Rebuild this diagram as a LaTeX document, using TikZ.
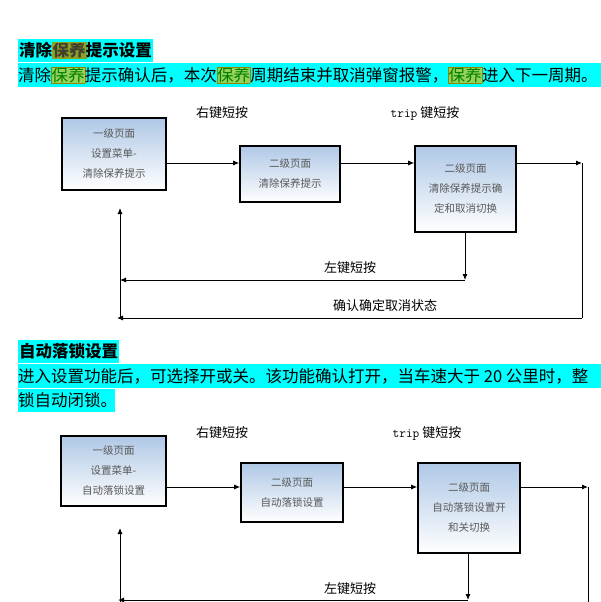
\documentclass[tikz,border=0pt]{standalone}
\usepackage{fontspec}
\setmainfont{Noto Sans CJK SC}
\usetikzlibrary{arrows.meta}
\definecolor{cyanbg}{RGB}{0,255,255}
\definecolor{hlA}{RGB}{140,160,40}
\definecolor{hlB}{RGB}{150,210,90}
\definecolor{boxtop}{RGB}{175,200,230}
\newcommand{\hlh}[1]{{\setlength\fboxsep{0pt}\setlength\fboxrule{0.3pt}\fcolorbox{hlA}{hlA}{\textcolor{black!70!olive}{#1}}}}
\newcommand{\hlt}[1]{{\setlength\fboxsep{0pt}\setlength\fboxrule{0.3pt}\fcolorbox{olive}{hlB}{\textcolor{black!50!green}{#1}}}}
\begin{document}
\begin{tikzpicture}[x=1pt,y=-1pt,
  box/.style={draw=black,line width=1.6pt,top color=boxtop,bottom color=white,
    font=\fontsize{10.5}{20}\selectfont,text=black!65,align=center,inner sep=0pt},
  lbl/.style={font=\fontsize{13}{15}\selectfont,inner sep=0pt},
  arr/.style={line width=0.9pt,-{Latex[length=6pt,width=5pt]}},
  ln/.style={line width=0.9pt}]
\useasboundingbox (0,0) rectangle (601,602);
\fill[white] (0,0) rectangle (601,602);
% ---------- section 1 ----------
\fill[cyanbg] (18,39) rectangle (153,62);
\node[anchor=west,inner sep=0pt,font=\bfseries\fontsize{16.5}{17}\selectfont] (h1) at (19,50.5) {清除\hlh{保养}提示设置};
\fill[cyanbg] (18,63) rectangle (601,87);
\node[anchor=west,inner sep=0pt,font=\fontsize{16.5}{18}\selectfont] (t1) at (18,75) {清除\hlt{保养}提示确认后，本次\hlt{保养}周期结束并取消弹窗报警，\hlt{保养}进入下一周期。};
\node[box,minimum width=104pt,minimum height=72pt] (a1) at (114,154) {一级页面\\设置菜单-\\清除保养提示};
\node[box,minimum width=100pt,minimum height=56pt] (a2) at (290,174) {二级页面\\清除保养提示};
\node[box,minimum width=101pt,minimum height=86pt] (a3) at (465.5,189) {二级页面\\清除保养提示确\\定和取消切换};
\node[lbl] (l1) at (222,113) {右键短按};
\node[lbl] (l2) at (425,113) {\texttt{trip} 键短按};
\node[lbl] (l3) at (350,268) {左键短按};
\node[lbl] (l4) at (385,306) {确认确定取消状态};
\coordinate (ar1) at (582,163);
\coordinate (ab1) at (582,318);
\coordinate (al1) at (117,318);
\coordinate (au1) at (120,318);
\coordinate (ad1) at (465,280);
\coordinate (ae1) at (120,280);
\draw[arr] (a1.east|-0,163) -- (a2.west|-0,163);
\draw[arr] (a2.east|-0,163) -- (a3.west|-0,163);
\draw[arr] (a3.east|-0,163) -- (ar1);
\draw[ln] (ar1) -- (ab1);
\draw[arr] (ab1) -- (al1);
\draw[arr] (au1) -- (120,208);
\draw[arr] (a3.south-|ad1) -- (ad1);
\draw[arr] (ad1) -- (ae1);
% ---------- section 2 ----------
\fill[cyanbg] (18,340) rectangle (119,363);
\node[anchor=west,inner sep=0pt,font=\bfseries\fontsize{16.5}{17}\selectfont] (h2) at (19,351.5) {自动落锁设置};
\fill[cyanbg] (18,364) rectangle (601,388);
\node[anchor=west,inner sep=0pt,font=\fontsize{16.5}{18}\selectfont] (t2) at (18,376) {进入设置功能后，可选择开或关。该功能确认打开，当车速大于 20 公里时，整};
\fill[cyanbg] (18,389) rectangle (115,412);
\node[anchor=west,inner sep=0pt,font=\fontsize{16.5}{18}\selectfont] (t3) at (18,400.5) {锁自动闭锁。};
\node[box,minimum width=105pt,minimum height=70pt] (b1) at (113.5,471) {一级页面\\设置菜单-\\自动落锁设置};
\node[box,minimum width=102pt,minimum height=59pt] (b2) at (292,492.5) {二级页面\\自动落锁设置};
\node[box,minimum width=102pt,minimum height=90pt] (b3) at (469,508) {二级页面\\自动落锁设置开\\和关切换};
\node[lbl] (m1) at (222,433) {右键短按};
\node[lbl] (m2) at (427,433) {\texttt{trip} 键短按};
\node[lbl] (m3) at (350,589) {左键短按};
\coordinate (br2) at (588,487);
\coordinate (bb2) at (588,602);
\coordinate (bu2) at (120,602);
\coordinate (bd2) at (468,600);
\coordinate (bl2) at (118,600);
\draw[arr] (b1.east|-0,487) -- (b2.west|-0,487);
\draw[arr] (b2.east|-0,487) -- (b3.west|-0,487);
\draw[arr] (b3.east|-0,487) -- (br2);
\draw[ln] (br2) -- (bb2);
\draw[arr] (bu2) -- (120,528);
\draw[arr] (b3.south-|bd2) -- (bd2);
\draw[arr] (bd2) -- (bl2);
\end{tikzpicture}
\end{document}
